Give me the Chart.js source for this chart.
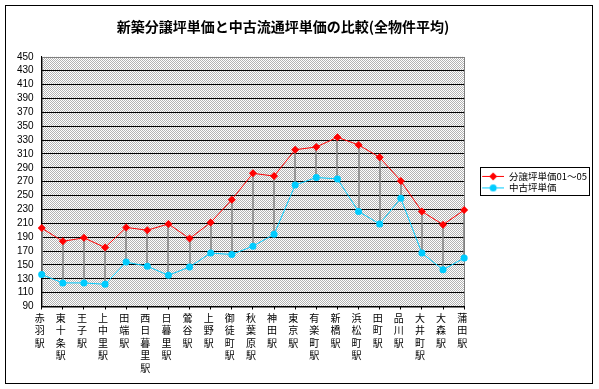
<!DOCTYPE html>
<html lang="ja">
  <head>
    <meta charset="UTF-8" />
    <title>新築分譲坪単価と中古流通坪単価の比較</title>
    <script src="https://cdn.jsdelivr.net/npm/chart.js@4/dist/chart.umd.min.js"></script>
    <style>
      html, body { margin: 0; padding: 0; background: #fff; }
      .wrap { position: relative; width: 599px; height: 389px; }
    </style>
  </head>
  <body>
    <div class="wrap">
      <canvas id="myChart"></canvas>
    </div>

    <script>
      const stations = ["赤羽駅", "東十条駅", "王子駅", "上中里駅", "田端駅", "西日暮里駅", "日暮里駅",
        "鶯谷駅", "上野駅", "御徒町駅", "秋葉原駅", "神田駅", "東京駅", "有楽町駅", "新橋駅",
        "浜松町駅", "田町駅", "品川駅", "大井町駅", "大森駅", "蒲田駅"];
      const newPrice = [203, 184, 189, 175, 204, 200, 209, 188, 211, 244, 282, 278, 316, 320, 334, 323, 305, 271, 227, 208, 229];
      const usedPrice = [136, 124, 124, 122, 154, 148, 135, 147, 167, 165, 177, 194, 265, 276, 274, 227, 209, 246, 167, 143, 160];
      const seriesNames = ["分譲坪単価01～05", "中古坪単価"];
      const yMin = 90, yMax = 450, yStep = 20;

      const RED = "#ff0000";
      const AQUA = "#00ccff";
      const jp = "'Noto Sans CJK JP', sans-serif";

      // excel style 50% grey fill
      const pat = document.createElement("canvas");
      pat.width = 2; pat.height = 2;
      const pc = pat.getContext("2d");
      pc.fillStyle = "#ffffff"; pc.fillRect(0, 0, 2, 2);
      pc.fillStyle = "#b4b4b4"; pc.fillRect(0, 0, 1, 1); pc.fillRect(1, 1, 1, 1);

      // legend icons: line with marker in the middle
      const ICON_W = 38;
      function legendIcon(color, diamond) {
        const c = document.createElement("canvas");
        c.width = ICON_W; c.height = 10;
        const g = c.getContext("2d");
        g.strokeStyle = color; g.lineWidth = 1;
        g.beginPath(); g.moveTo(16, 5.5); g.lineTo(ICON_W, 5.5); g.stroke();
        g.fillStyle = color;
        g.beginPath();
        if (diamond) {
          g.moveTo(27, 1.5); g.lineTo(31, 5.5); g.lineTo(27, 9.5); g.lineTo(23, 5.5);
        } else {
          g.arc(27, 5.5, 3.5, 0, Math.PI * 2);
        }
        g.fill();
        return c;
      }
      const icons = [legendIcon(RED, true), legendIcon(AQUA, false)];

      const framePlugin = {
        id: "frame",
        afterLayout(chart) {
          // excel centres the title a bit left of the page middle
          if (chart.titleBlock) chart.titleBlock.right -= 40;
        },
        beforeDraw(chart) {
          const { ctx, chartArea: a } = chart;
          ctx.save();
          ctx.fillStyle = "#fff";
          ctx.fillRect(0, 0, chart.width, chart.height);
          ctx.fillStyle = ctx.createPattern(pat, "repeat");
          ctx.fillRect(a.left, a.top, a.right - a.left, a.bottom - a.top);
          ctx.strokeStyle = "#808080";
          ctx.lineWidth = 1;
          ctx.strokeRect(Math.round(a.left) + 0.5, Math.round(a.top) + 0.5,
            Math.round(a.right - a.left), Math.round(a.bottom - a.top));
          ctx.restore();
        },
        beforeDatasetsDraw(chart) {
          // high-low lines between the two series
          const { ctx } = chart;
          const x = chart.scales.x, y = chart.scales.y;
          ctx.save();
          ctx.strokeStyle = "#808080";
          ctx.lineWidth = 1.5;
          newPrice.forEach((v, i) => {
            const px = Math.round(x.getPixelForValue(i));
            ctx.beginPath();
            ctx.moveTo(px, y.getPixelForValue(v));
            ctx.lineTo(px, y.getPixelForValue(usedPrice[i]));
            ctx.stroke();
          });
          ctx.restore();
        },
        afterDraw(chart) {
          const { ctx } = chart;
          ctx.save();
          ctx.strokeStyle = "#000";
          ctx.lineWidth = 1;
          ctx.strokeRect(5.5, 5.5, 587, 378);
          const boxes = chart.legend.legendHitBoxes;
          if (boxes && boxes.length) {
            const l = boxes[0].left + 14;
            const t = boxes[0].top - 4;
            const last = boxes[boxes.length - 1];
            const r = Math.min(589, Math.max(...boxes.map((b) => b.left + b.width)) + 2);
            const b = last.top + last.height + 3;
            ctx.strokeRect(Math.round(l) + 0.5, Math.round(t) + 0.5, Math.round(r - l), Math.round(b - t));
          }
          ctx.restore();
        },
      };

      const ctx = document.getElementById("myChart").getContext("2d");
      const myChart = new Chart(ctx, {
        type: "line",
        data: {
          labels: stations.map((s) => s.split("")),
          datasets: [
            {
              label: seriesNames[0],
              data: newPrice,
              borderColor: RED,
              backgroundColor: RED,
              borderWidth: 1,
              pointStyle: "rectRot",
              pointRadius: 4,
              pointBorderWidth: 0,
              tension: 0,
            },
            {
              label: seriesNames[1],
              data: usedPrice,
              borderColor: AQUA,
              backgroundColor: AQUA,
              borderWidth: 1,
              pointStyle: "circle",
              pointRadius: 3.5,
              pointBorderWidth: 0,
              tension: 0,
            },
          ],
        },
        options: {
          responsive: true,
          maintainAspectRatio: false,
          animation: false,
          events: [],
          layout: { padding: { left: 9, right: 2, top: 0, bottom: 13 } },
          plugins: {
            title: {
              display: true,
              text: "新築分譲坪単価と中古流通坪単価の比較(全物件平均)",
              color: "#000",
              font: { family: jp, size: 14, weight: "bold" },
              padding: { top: 18, bottom: 22 },
            },
            legend: {
              position: "right",
              fullSize: false,
              labels: {
                color: "#000",
                font: { family: jp, size: 9.5 },
                usePointStyle: true,
                pointStyleWidth: ICON_W,
                padding: 2,
                generateLabels(chart) {
                  const items = Chart.defaults.plugins.legend.labels.generateLabels(chart);
                  items.forEach((it, i) => {
                    it.pointStyle = icons[i];
                    it.lineWidth = 0;
                  });
                  return items;
                },
              },
            },
            tooltip: { enabled: false },
          },
          scales: {
            x: {
              offset: false,
              grid: { display: true, drawOnChartArea: false, drawTicks: true, tickLength: 3, color: "#000" },
              border: { color: "#000", width: 1 },
              ticks: {
                color: "#000",
                maxRotation: 0,
                autoSkip: false,
                padding: 2,
                labelOffset: -2,
                font: { family: jp, size: 10, lineHeight: 1.25 },
              },
            },
            y: {
              min: yMin,
              max: yMax,
              grid: {
                drawTicks: false,
                color: (c) => (c.tick && c.tick.value === yMax ? "rgba(0,0,0,0)" : "#000"),
                lineWidth: 1,
              },
              border: { color: "#000", width: 1 },
              ticks: {
                stepSize: yStep,
                autoSkip: false,
                color: "#000",
                padding: 8,
                font: { family: "'Liberation Sans', Arial, sans-serif", size: 10 },
              },
            },
          },
        },
        plugins: [framePlugin],
      });
    </script>
  </body>
</html>
